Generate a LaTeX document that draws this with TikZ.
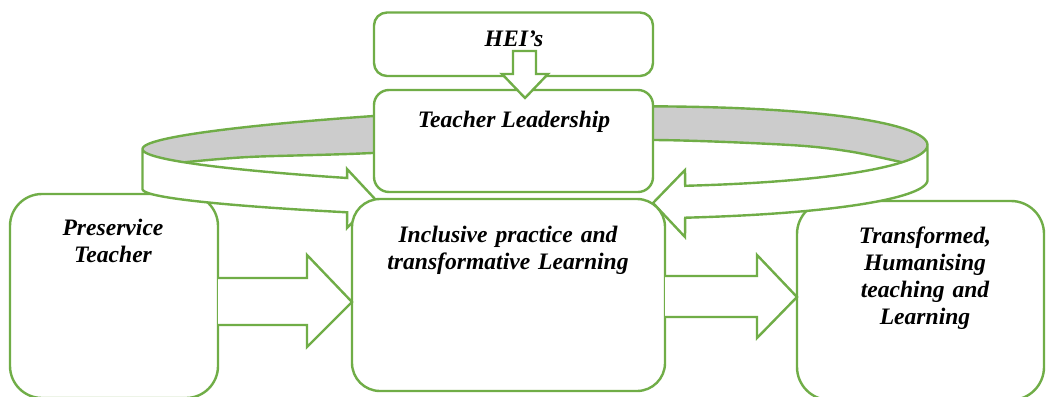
\documentclass[tikz,border=0pt]{standalone}
\usepackage{fontspec}
\setmainfont{Liberation Serif}
\definecolor{leaf}{RGB}{112,173,71}
\definecolor{ringgray}{RGB}{204,204,204}
% outline of the ring: top rim, and height of the band wall
\pgfmathdeclarefunction{ringx}{1}{\pgfmathparse{535+392.5*cos(#1)}}
\pgfmathdeclarefunction{ringy}{1}{\pgfmathparse{147-2*cos(#1)+(39+10*cos(#1))*sin(#1)}}
\pgfmathdeclarefunction{ringh}{1}{\pgfmathparse{37.5-2.5*cos(#1)-5*abs(sin(#1))}}
\begin{document}
\begin{tikzpicture}[x=1pt,y=-1pt,
  outline/.style={draw=leaf,line width=2.4pt,line join=miter},
  box/.style={outline,fill=white,rectangle,rounded corners=#1,inner sep=0pt,outer sep=0pt},
  blockarrow/.style={outline,fill=white},
  caption/.style={font=\bfseries\itshape\fontsize{23.6}{27}\selectfont,inner sep=0pt,align=center,anchor=base},
  variable=\t, samples=80]
\useasboundingbox (0,0) rectangle (1046,396);
\fill[white] (0,0) rectangle (1046,396);
\clip (0,0) rectangle (1046,396);

% outer boxes
\node[box=32pt,minimum width=208pt,minimum height=204pt] (pre) at (114,296) {};
\node[box=33pt,minimum width=247pt,minimum height=199pt] (trf) at (920.5,300.5) {};

% inside wall of the ring, seen at the back
\fill[ringgray] plot[domain=180:360] ({ringx(\t)},{ringy(\t)})
  -- plot[domain=0:20.3] ({ringx(\t)},{ringy(\t)})
  -- plot[smooth] coordinates {(903,162.5) (850,151.5) (790,145) (653,140) (513,143.7) (372,153) (260,156.5) (220,159) (182,162.5)}
  -- plot[domain=154.1:180] ({ringx(\t)},{ringy(\t)}) -- cycle;
\draw[outline] plot[domain=180:360] ({ringx(\t)},{ringy(\t)});
\draw[outline] plot[smooth] coordinates {(903,162.5) (850,151.5) (790,145) (653,140) (513,143.7) (372,153) (260,156.5) (220,159) (182,162.5)};

% front of the ring, ending in two arrow heads
\draw[blockarrow] plot[domain=180:118.6] ({ringx(\t)},{ringy(\t)})
  -- (347,169) -- (375,199) -- (347,228)
  -- plot[domain=118.6:180] ({ringx(\t)},{ringy(\t)+ringh(\t)}) -- cycle;
\draw[blockarrow] plot[domain=0:67.5] ({ringx(\t)},{ringy(\t)})
  -- (685,170) -- (653,203) -- (685,237)
  -- plot[domain=67.5:0] ({ringx(\t)},{ringy(\t)+ringh(\t)}) -- cycle;

% central boxes
\node[box=15pt,minimum width=279pt,minimum height=102pt] (lead) at (513.5,141) {};
\node[box=28pt,minimum width=313pt,minimum height=192pt] (incl) at (508.5,295) {};
\node[box=13pt,minimum width=279pt,minimum height=63.5pt] (hei) at (513.5,44.25) {};

% block arrows
\draw[blockarrow] (513,51) -- (536,51) -- (536,74) -- (548,74) -- (525,98) -- (502,74) -- (513,74) -- cycle;
\draw[blockarrow] (218,278) -- (307,278) -- (307,255) -- (352,302) -- (307,347) -- (307,325) -- (218,325);
\draw[blockarrow] (665,276) -- (757,276) -- (757,255) -- (797,297) -- (757,338) -- (757,317) -- (665,317);

% captions
\node[caption] (heit) at (514,47) {HEI’s};
\node[caption] (leadt) at (514,127) {Teacher Leadership};
\node[caption,text width=200pt] (pret) at (113,235) {Preservice\\Teacher};
\node[caption,text width=300pt] (inclt) at (508,242) {Inclusive practice and\\transformative Learning};
\node[caption,text width=230pt] (trft) at (925,243) {Transformed,\\Humanising\\teaching and\\Learning};
\end{tikzpicture}
\end{document}
